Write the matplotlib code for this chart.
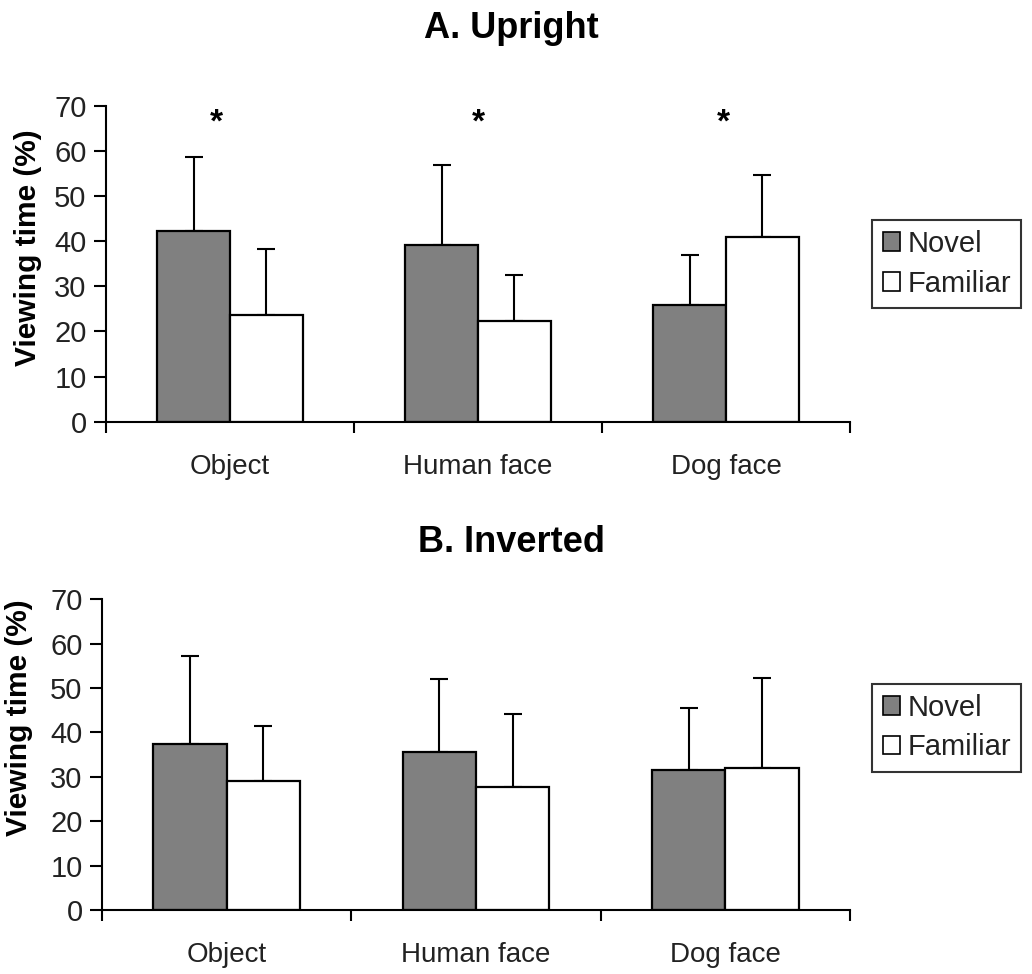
import matplotlib
matplotlib.use("Agg")
import matplotlib.pyplot as plt
import numpy as np
from matplotlib.patches import Patch

plt.rcParams['font.family'] = ['Liberation Sans', 'DejaVu Sans']

categories = ["Object", "Human face", "Dog face"]
series = ["Novel", "Familiar"]

upright_novel = [42.3, 39.2, 25.8]
upright_novel_err = [16.3, 17.7, 11.2]
upright_familiar = [23.6, 22.3, 41.0]
upright_familiar_err = [14.6, 10.2, 13.6]
upright_sig = [True, True, True]

inverted_novel = [37.5, 35.7, 31.6]
inverted_novel_err = [19.8, 16.3, 14.0]
inverted_familiar = [29.0, 27.6, 32.1]
inverted_familiar_err = [12.5, 16.6, 20.2]

yticks = [0, 10, 20, 30, 40, 50, 60, 70]
colors = ["#808080", "#ffffff"]

W, H = 1032, 974
fig = plt.figure(figsize=(W / 100, H / 100), dpi=100)

def px_axes(left, right, top, bottom):
    return fig.add_axes([left / W, 1 - bottom / H, (right - left) / W, (bottom - top) / H])

ax1 = px_axes(106, 850, 106, 421.7)
ax2 = px_axes(102, 850, 599.3, 910)

star_offsets = [-0.056, 0.0, -0.012]

def draw(ax, nov, nov_err, fam, fam_err, label_xy, legend_y, sig=None):
    x = np.arange(len(categories))
    bw = 0.294
    for vals, errs, off, c in [(nov, nov_err, -bw / 2, colors[0]), (fam, fam_err, bw / 2, colors[1])]:
        ax.bar(x + off, vals, width=bw, color=c, edgecolor="black", linewidth=1.6, zorder=2)
        ax.errorbar(x + off, vals, yerr=[np.zeros(len(vals)), errs], fmt="none",
                    ecolor="black", elinewidth=1.5, capsize=6.5, capthick=1.5, zorder=1)
    ax.set_xlim(-0.5, len(categories) - 0.5)
    ax.set_ylim(0, 70)
    ax.set_yticks(yticks)
    ax.set_yticklabels([str(t) for t in yticks], fontsize=21, color="#222222")
    ax.set_xticks(np.arange(len(categories) + 1) - 0.5)
    ax.set_xticklabels([])
    ax.set_xticks(x, minor=True)
    ax.set_xticklabels(categories, minor=True, fontsize=20, color="#222222")
    ax.tick_params(axis="x", which="major", direction="out", length=8, width=1.5)
    ax.tick_params(axis="x", which="minor", length=0, pad=23)
    ax.tick_params(axis="y", direction="out", length=9, width=1.5, pad=5)
    for s in ["top", "right"]:
        ax.spines[s].set_visible(False)
    for s in ["left", "bottom"]:
        ax.spines[s].set_linewidth(1.5)
    ax.set_ylabel("Viewing time (%)", fontsize=21.5, fontweight="bold")
    ax.yaxis.set_label_coords(*label_xy)
    if sig is not None:
        for i, s in enumerate(sig):
            if s:
                ax.text(x[i] + star_offsets[i], 66.3, "*", ha="center", va="center",
                        fontsize=24, fontweight="bold")
    handles = [Patch(facecolor=colors[0], edgecolor="black", linewidth=1.2),
               Patch(facecolor=colors[1], edgecolor="black", linewidth=1.2)]
    leg = ax.legend(handles, series, loc="center left", bbox_to_anchor=(1.03, legend_y),
                    fontsize=21, frameon=True, fancybox=False, edgecolor="black",
                    handlelength=0.6, handleheight=0.6, handletextpad=0.25,
                    borderpad=0.35, labelspacing=0.4, borderaxespad=0)
    leg.get_frame().set_linewidth(1.5)
    for t in leg.get_texts():
        t.set_color("#222222")

draw(ax1, upright_novel, upright_novel_err, upright_familiar, upright_familiar_err,
     (-0.086, 0.55), 0.5, upright_sig)
draw(ax2, inverted_novel, inverted_novel_err, inverted_familiar, inverted_familiar_err,
     (-0.092, 0.62), 0.587)

fig.text(511 / W, 1 - 28 / H, "A. Upright", ha="center", va="center", fontsize=26, fontweight="bold")
fig.text(511 / W, 1 - 543 / H, "B. Inverted", ha="center", va="center", fontsize=26, fontweight="bold")

fig.savefig("out.png", dpi=100, facecolor="white")
